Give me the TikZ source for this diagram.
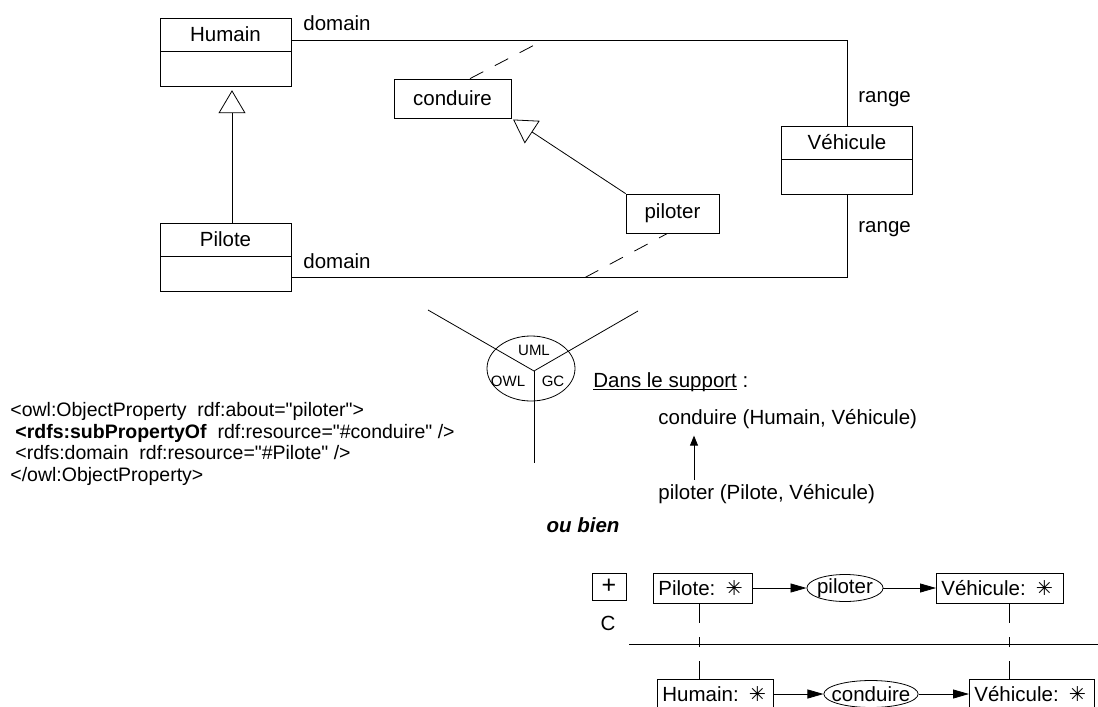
\documentclass[tikz,border=0pt]{standalone}
\usepackage{fontspec}
\setmainfont{Liberation Sans}[Ligatures=TeXOff]
\newfontfamily\astfont{DejaVu Sans}
\usepackage{tikz}
\usetikzlibrary{shapes.geometric, arrows.meta, positioning, calc}

\newcommand{\lblfont}{\fontsize{20.5}{24}\selectfont}
\newcommand{\codefont}{\fontsize{19.5}{21.7}\selectfont}
\newcommand{\viewfont}{\fontsize{15}{18}\selectfont}
\newcommand{\astk}{{\astfont ✳}}
\newcommand{\undl}[1]{\setbox0\hbox{#1}\rlap{\rule[-2.5pt]{\wd0}{0.9pt}}\box0\relax}

\tikzset{
  classhead/.style={draw, minimum width=131pt, minimum height=33pt, inner sep=0pt},
  classbody/.style={draw, minimum width=131pt, minimum height=35pt, inner sep=0pt},
  propbox/.style={draw, minimum height=39pt, inner sep=0pt},
  gen/.style={-{Triangle[open, length=23pt, width=27pt]}},
  lbl/.style={inner sep=0pt, anchor=base west},
  cgbox/.style={draw, minimum height=30pt, inner ysep=0pt, inner xsep=5pt, anchor=west, align=left},
  cgrel/.style={draw, ellipse, inner ysep=0pt, minimum height=27pt},
  cgarrow/.style={-{Triangle[length=16pt, width=9pt]}},
}

\begin{document}
\begin{tikzpicture}[x=1pt, y=-1pt, font=\lblfont, line width=0.8pt]
    \useasboundingbox (0,0) rectangle (1098,707);

    % UML part
    \node[classhead] (humain) at (225.5,34.5) {Humain};
    \node[classbody, below=0pt of humain] (humainb) {};
    \node[classhead] (pilote) at (225.5,239.5) {Pilote};
    \node[classbody, below=0pt of pilote] (piloteb) {};
    \node[classhead] (vehicule) at (847,142.5) {Véhicule};
    \node[classbody, below=0pt of vehicule] (vehiculeb) {};
    \node[propbox, minimum width=117pt] (conduire) at (452.5,98.5) {conduire};
    \node[propbox, minimum width=93pt] (piloter) at (672.5,213.5) {piloter};

    \draw ([yshift=-5.5pt]humain.east) -| (vehicule.north);
    \draw ([yshift=-3.5pt]piloteb.east) -| (vehiculeb.south);
    \draw[gen, shorten >=3pt] ([xshift=6.5pt]pilote.north) -- ([xshift=6.5pt]humainb.south);
    \draw[gen, shorten >=2pt] (piloter.north west) -- (conduire.south east);

    \coordinate (dc) at (544,40);
    \coordinate (dp) at (585,277.5);
    \draw[dash pattern=on 15pt off 13pt] ([xshift=17.5pt]conduire.north) -- (dc);
    \draw[dash pattern=on 15pt off 13pt] (dp) -- ([xshift=-5pt]piloter.south);

    \node[lbl] (dom1) at (303,30) {domain};
    \node[lbl] (dom2) at (303,268) {domain};
    \node[lbl] (rng1) at (858,102) {range};
    \node[lbl] (rng2) at (858,232) {range};

    % three views
    \node[draw, ellipse, minimum width=88pt, minimum height=65pt, inner sep=0pt] (views) at (531,368.5) {};
    \coordinate (ymid) at (534,371);
    \foreach \p in {(428,310), (638,311), (534,463)}
        \draw (ymid) -- \p;
    \node[font=\viewfont, inner sep=0pt] (uml) at (534,350) {UML};
    \node[font=\viewfont, inner sep=0pt] (owl) at (508,381) {OWL};
    \node[font=\viewfont, inner sep=0pt] (gc) at (553,381) {GC};

    % OWL
    \node[anchor=north west, inner sep=0pt, align=left, font=\codefont] (owlcode) at (10,402) {
        <owl:ObjectProperty\ \ rdf:about="piloter">\\
        \hspace*{5pt}\textbf{<rdfs:subPropertyOf}\ \ rdf:resource="\#conduire" />\\
        \hspace*{5pt}<rdfs:domain\ \ rdf:resource="\#Pilote" />\\
        </owl:ObjectProperty>
    };

    % support
    \node[lbl] (support) at (593,387) {\undl{Dans le support} :};
    \node[lbl] (relconduire) at (658,424) {conduire (Humain, Véhicule)};
    \node[lbl] (relpiloter) at (658,499) {piloter (Pilote, Véhicule)};
    \draw[-{Triangle[length=10pt, width=8pt]}] ([shift={(36pt,4pt)}]relpiloter.north west)
        -- ([shift={(36pt,-7pt)}]relconduire.south west);

    \node[font=\lblfont\bfseries\itshape, inner sep=0pt] (oubien) at (583,525) {ou bien};

    % conceptual graphs
    \node[draw, minimum width=34pt, minimum height=27pt, inner sep=0pt, font=\fontsize{25}{28}\selectfont] (plus) at (609,586.5) {+};
    \node[inner sep=0pt] (ctype) at (608,623) {C};
    \node[cgbox, text width=89pt] (pilotecg) at (653,588) {Pilote: \astk};
    \node[cgrel, inner xsep=-1pt, minimum width=76pt] (piloterrel) at (845,588) {piloter};
    \node[cgbox, text width=117pt] (vehiculecg) at (936,588) {Véhicule: \astk};
    \draw[cgarrow] (pilotecg.east) -- (piloterrel.west);
    \draw[cgarrow] (piloterrel.east) -- (vehiculecg.west);

    \draw (629,644) -- (1098,644);

    \node[cgbox, text width=106pt] (humaincg) at (657,694) {Humain: \astk};
    \node[cgrel, inner xsep=-6pt, minimum width=94pt] (conduirerel) at (871,694) {conduire};
    \node[cgbox, text width=115pt] (vehiculecg2) at (969,694) {Véhicule: \astk};
    \draw[cgarrow] (humaincg.east) -- (conduirerel.west);
    \draw[cgarrow] (conduirerel.east) -- (vehiculecg2.west);

    \coordinate (pl) at ([xshift=-3.5pt]pilotecg.south);
    \coordinate (vl) at ([xshift=9.5pt]vehiculecg.south);
    \draw[dash pattern=on 20pt off 14pt on 10pt off 14pt] (pl) -- (pl |- humaincg.north);
    \draw[dash pattern=on 20pt off 14pt on 10pt off 14pt] (vl) -- (vl |- vehiculecg2.north);
\end{tikzpicture}
\end{document}
